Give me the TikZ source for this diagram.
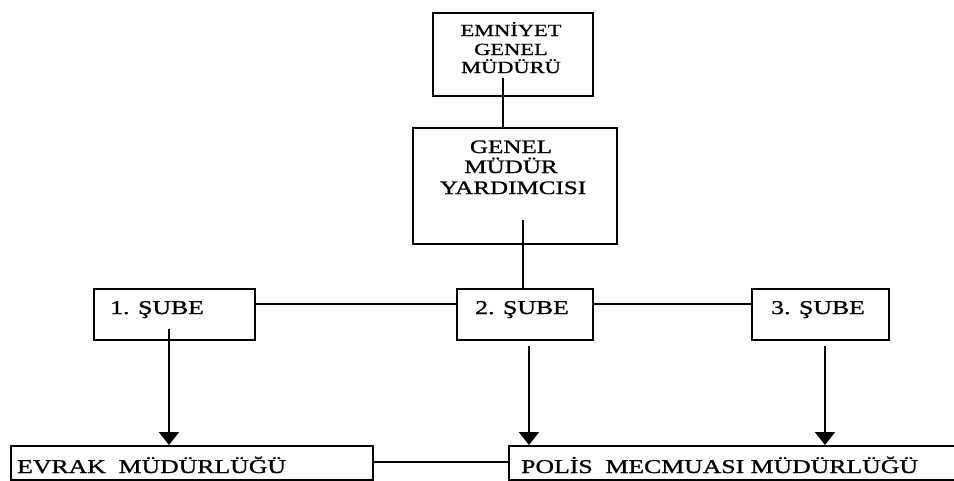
\documentclass[tikz,border=0pt]{standalone}
\usepackage{fontspec}
\setmainfont[FakeStretch=1.32,FakeBold=1.1]{Liberation Serif}
\usetikzlibrary{arrows.meta}
\tikzset{
  orgbox/.style={draw=black, line width=2.2pt, anchor=north west, inner sep=0pt},
  conn/.style={draw=black, line width=1.8pt},
  arr/.style={conn, -{Triangle[width=20pt,length=13pt]}},
  lblL/.style={inner sep=0pt, anchor=base west, font=\fontsize{19.5}{21}\selectfont},
  lblC/.style={inner sep=0pt, anchor=base, font=\fontsize{19}{21}\selectfont},
  lblT/.style={inner sep=0pt, anchor=base, font=\fontsize{17}{19}\selectfont}
}
\begin{document}
\begin{tikzpicture}[x=1pt,y=-1pt]
\useasboundingbox (0,0) rectangle (954,480);
\fill[white] (0,0) rectangle (954,480);
% boxes
\node[orgbox, minimum width=160pt, minimum height=83pt] (emn) at (432,12) {};
\node[orgbox, minimum width=204pt, minimum height=116pt] (gmy) at (412,127) {};
\node[orgbox, minimum width=161pt, minimum height=51pt] (s1) at (93,288) {};
\node[orgbox, minimum width=136pt, minimum height=51pt] (s2) at (456,288) {};
\node[orgbox, minimum width=137pt, minimum height=51pt] (s3) at (751,288) {};
\node[orgbox, minimum width=362pt, minimum height=34pt] (evr) at (10,445) {};
\node[orgbox, minimum width=470pt, minimum height=34pt] (pol) at (508,445) {};
% texts
\node[lblT] (t1) at (511,36) {EMNİYET};
\node[lblT] (t2) at (511,55) {GENEL};
\node[lblT] (t3) at (511,73) {MÜDÜRÜ};
\node[lblC] (g1) at (511,153) {GENEL};
\node[lblC] (g2) at (511,173) {MÜDÜR};
\node[lblC] (g3) at (513,194) {YARDIMCISI};
\node[lblL] (l1) at (110,314) {1. ŞUBE};
\node[lblL] (l2) at (475,314) {2. ŞUBE};
\node[lblL] (l3) at (771,314) {3. ŞUBE};
\node[lblL] (le) at (17,473) {EVRAK\ \ MÜDÜRLÜĞÜ};
\node[lblL] (lp) at (521,473) {POLİS\ \ MECMUASI MÜDÜRLÜĞÜ};
% connector anchors
\coordinate (c1) at (503,78);
\coordinate (c2) at (523,220);
\coordinate (h) at (0,304);
\coordinate (hb) at (0,462);
\coordinate (d1) at (169,329);
\coordinate (d2) at (529,346);
\coordinate (d3) at (825,346);
% connectors
\draw[conn] (c1) -- (c1 |- gmy.north);
\draw[conn] (c2) -- (c2 |- s2.north);
\draw[conn] (s1.east |- h) -- (s2.west |- h);
\draw[conn] (s2.east |- h) -- (s3.west |- h);
\draw[arr] (d1) -- (d1 |- evr.north);
\draw[arr] (d2) -- (d2 |- pol.north);
\draw[arr] (d3) -- (d3 |- pol.north);
\draw[conn] (evr.east |- hb) -- (pol.west |- hb);
\end{tikzpicture}
\end{document}
